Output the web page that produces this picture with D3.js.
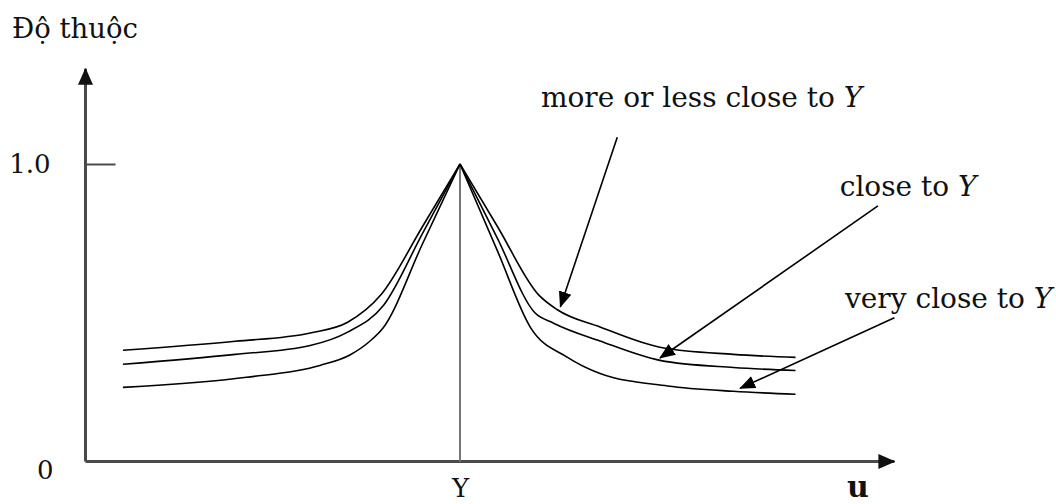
<!DOCTYPE html>
<html>
<head>
<meta charset="utf-8">
<script src="https://cdn.jsdelivr.net/npm/d3@7"></script>
<style>
  html, body { margin: 0; padding: 0; background: #fff; }
  svg { display: block; }
  text { font-family: "DejaVu Serif", serif; fill: #111; }
</style>
</head>
<body>
<div id="chart"></div>
<script>
// Membership curves of the hedges around the value Y on the universe u.
const yAxisTitle = "Độ thuộc";
const xAxisTitle = "u";
const peakLabel = "Y";
const peakU = 50;
const uDomain = [0, 108];
const muDomain = [0, 1.32];
const muTicks = [0, 1];

const seriesNames = ["more or less close to ", "close to ", "very close to "];

// [u, membership] pairs
const moreOrLessClose = [
  [5, 0.374], [20, 0.404], [30, 0.432], [35, 0.468], [39.5, 0.562], [45, 0.79], [50, 1],
  [55, 0.79], [60.5, 0.56], [63, 0.51], [68.7, 0.452], [76.7, 0.384], [86.5, 0.36], [94.8, 0.35]
];
const closeTo = [
  [5, 0.327], [20, 0.36], [30, 0.39], [35, 0.435], [39.8, 0.525], [45, 0.767], [50, 1],
  [55, 0.75], [60, 0.5], [62.5, 0.465], [68.7, 0.405], [76.7, 0.34], [86.5, 0.316], [94.8, 0.306]
];
const veryCloseTo = [
  [5, 0.249], [21.5, 0.283], [31.3, 0.323], [35.3, 0.358], [38, 0.405], [39.7, 0.448], [45, 0.732], [50, 1],
  [55, 0.708], [59.4, 0.451], [64.3, 0.351], [68.7, 0.296], [77.7, 0.254], [86.5, 0.236], [94.8, 0.226]
];
const series = [moreOrLessClose, closeTo, veryCloseTo];

// Annotation arrows: label anchor (u, mu) -> pointed curve point (u, mu)
const arrowFrom = [[71, 1.09], [105.8, 0.859], [108, 0.483]];
const arrowTo = [[63.4, 0.52], [76.7, 0.348], [87.4, 0.246]];
const labelAt = [[60.8, 1.192], [100.7, 0.893], [101.4, 0.516]];

const W = 1056, H = 504;
const svg = d3.select("#chart").append("svg")
  .attr("width", W).attr("height", H)
  .style("background", "#fff");

const x = d3.scaleLinear().domain(uDomain).range([85.5, 894.4]);
const y = d3.scaleLinear().domain([0, 1]).range([461.5, 164]);

const defs = svg.append("defs");
defs.append("marker")
  .attr("id", "axisHead").attr("markerUnits", "userSpaceOnUse")
  .attr("viewBox", "0 -8 17 16").attr("refX", 16).attr("refY", 0)
  .attr("markerWidth", 17).attr("markerHeight", 16).attr("orient", "auto")
  .append("path").attr("d", "M0,-7.5L17,0L0,7.5Z").attr("fill", "#111");
defs.append("marker")
  .attr("id", "noteHead").attr("markerUnits", "userSpaceOnUse")
  .attr("viewBox", "0 -7 16 14").attr("refX", 15).attr("refY", 0)
  .attr("markerWidth", 16).attr("markerHeight", 14).attr("orient", "auto")
  .append("path").attr("d", "M0,-6.5L16,0L0,6.5Z").attr("fill", "#000");

// Axes
const axisColor = "#4a4a4a";
svg.append("line")
  .attr("x1", x(0)).attr("y1", y(0)).attr("x2", x(0)).attr("y2", y(muDomain[1]))
  .attr("stroke", axisColor).attr("stroke-width", 3)
  .attr("marker-end", "url(#axisHead)");
svg.append("line")
  .attr("x1", x(0)).attr("y1", y(0)).attr("x2", x(uDomain[1])).attr("y2", y(0))
  .attr("stroke", axisColor).attr("stroke-width", 3)
  .attr("marker-end", "url(#axisHead)");

const yAxis = d3.axisLeft(y).tickValues(muTicks)
  .tickSize(-30).tickPadding(35)
  .tickFormat(d => d === 0 ? "0" : d3.format(".1f")(d));
const gy = svg.append("g").attr("transform", `translate(${x(0)},0)`).call(yAxis);
gy.select(".domain").remove();
gy.selectAll(".tick line").attr("stroke", axisColor).attr("stroke-width", 2)
  .filter(d => d === 0).remove();
gy.selectAll(".tick text")
  .style("font-family", "'DejaVu Serif', serif").style("font-size", "26px").attr("fill", "#111")
  .attr("dy", d => d === 0 ? "0.64em" : "0.32em")
  .attr("x", d => d === 0 ? -32 : -35);

const xAxis = d3.axisBottom(x).tickValues([peakU]).tickSize(0).tickPadding(17)
  .tickFormat(() => peakLabel);
const gx = svg.append("g").attr("transform", `translate(0,${y(0)})`).call(xAxis);
gx.select(".domain").remove();
gx.selectAll(".tick text")
  .style("font-family", "'DejaVu Serif', serif").style("font-size", "26px").attr("fill", "#111");

// Vertical line at Y
svg.append("line")
  .attr("x1", x(peakU)).attr("x2", x(peakU)).attr("y1", y(0)).attr("y2", y(1))
  .attr("stroke", "#777").attr("stroke-width", 2);

// Curves: each side of the peak drawn separately to keep the apex sharp
const line = d3.line().x(d => x(d[0])).y(d => y(d[1])).curve(d3.curveMonotoneX);
series.forEach(s => {
  const left = s.filter(d => d[0] <= peakU);
  const right = s.filter(d => d[0] >= peakU);
  [left, right].forEach(part => {
    svg.append("path").attr("d", line(part))
      .attr("fill", "none").attr("stroke", "#000").attr("stroke-width", 1.6)
      .attr("stroke-linejoin", "round");
  });
});

// Annotation arrows and labels
seriesNames.forEach((name, i) => {
  svg.append("line")
    .attr("x1", x(arrowFrom[i][0])).attr("y1", y(arrowFrom[i][1]))
    .attr("x2", x(arrowTo[i][0])).attr("y2", y(arrowTo[i][1]))
    .attr("stroke", "#000").attr("stroke-width", 1.6)
    .attr("marker-end", "url(#noteHead)");
  const t = svg.append("text")
    .attr("x", x(labelAt[i][0])).attr("y", y(labelAt[i][1]))
    .style("font-size", "28px");
  t.append("tspan").text(name);
  t.append("tspan").style("font-style", "italic").text(peakLabel);
});

// Axis titles
svg.append("text").attr("x", 12).attr("y", 38).style("font-size", "27.5px").text(yAxisTitle);
svg.append("text").attr("x", 858).attr("y", 497).attr("text-anchor", "middle")
  .style("font-size", "30px").style("font-weight", "bold").text(xAxisTitle);
</script>
</body>
</html>
